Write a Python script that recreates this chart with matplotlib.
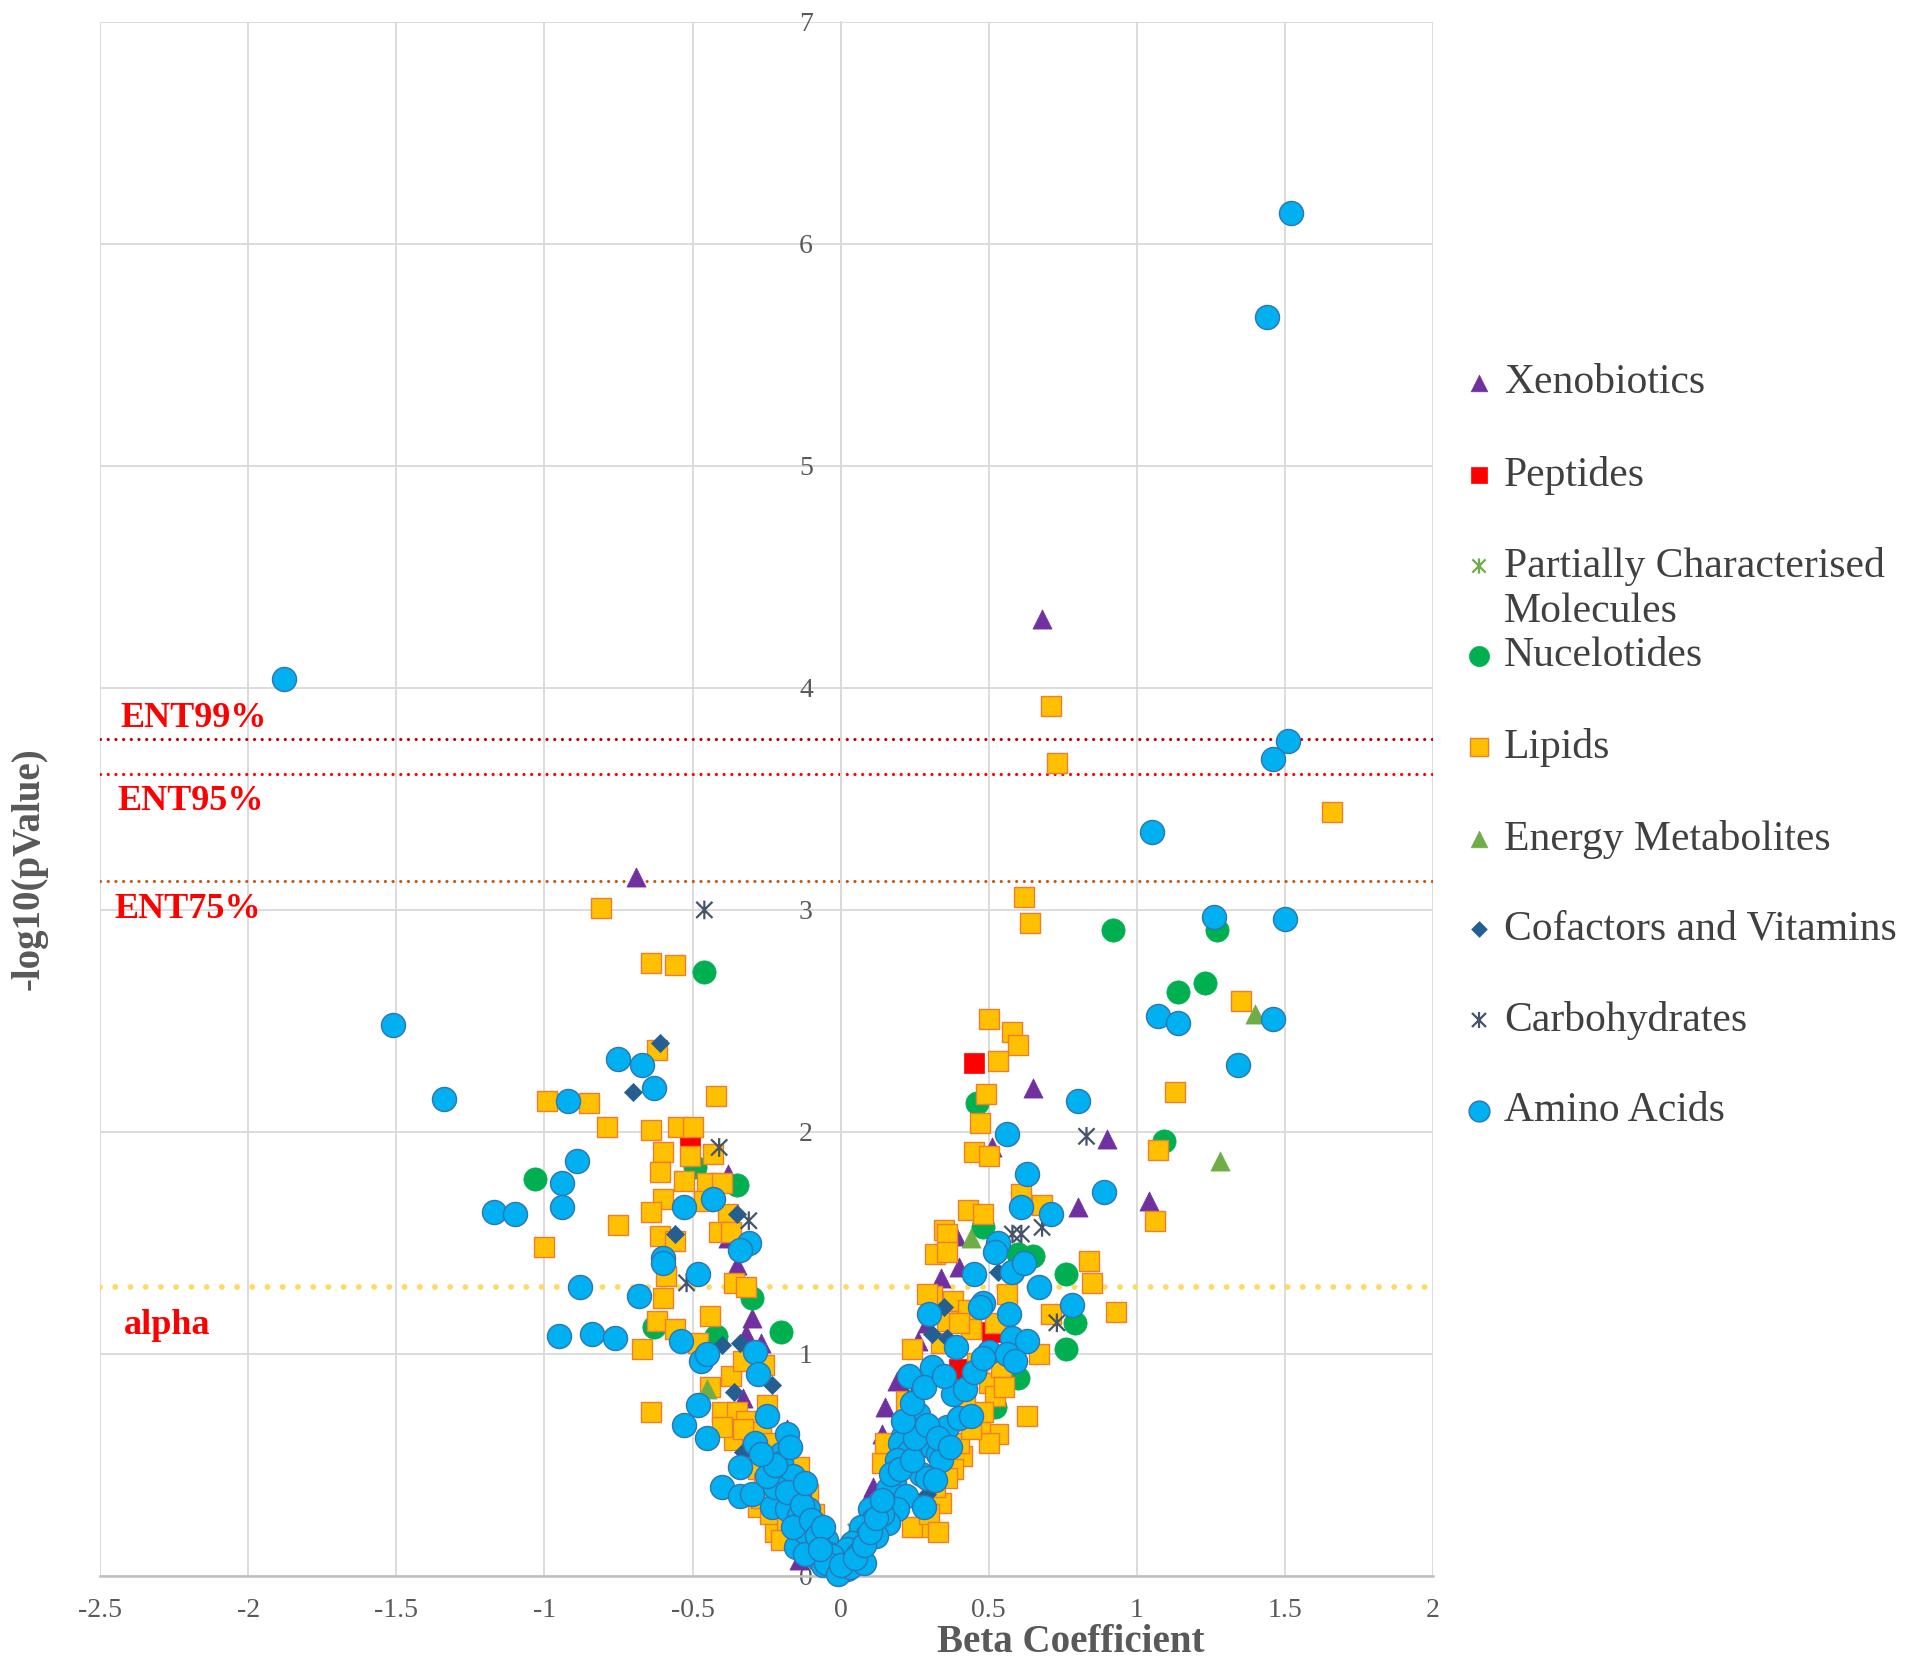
import matplotlib
matplotlib.use("Agg")
import matplotlib.pyplot as plt
import numpy as np
from matplotlib.path import Path

plt.rcParams['font.family'] = ['Liberation Serif', 'DejaVu Serif']

# ---- data (beta coefficient, -log10 p) ----
xeno_x = [0.68, -0.69, 0.65, 0.90, 0.80, 1.04, 0.51, -0.35, -0.30, -0.32, -0.27, -0.38, -0.38,
          -0.33, -0.18, -0.14, -0.08, 0.39, 0.40, 0.34, 0.19, 0.15, 0.14, 0.11, 0.29, 0.26, 0.10]
xeno_y = [4.31, 3.15, 2.20, 1.97, 1.66, 1.69, 1.93, 1.40, 1.16, 1.09, 1.05, 1.81, 1.52,
          0.80, 0.66, 0.07, 0.15, 1.53, 1.39, 1.34, 0.88, 0.76, 0.64, 0.40, 1.14, 1.06, 0.37]

pept_x = [0.45, -0.51, 0.40, 0.51]
pept_y = [2.31, 1.98, 0.93, 1.10]

partial_x = [0.05, -0.10]
partial_y = [0.20, 0.33]

nucl_x = [0.92, 1.27, 1.14, 1.23, 1.09, 0.46, -0.46, -0.35, -1.03, -0.49, -0.30, -0.20, -0.63,
          -0.42, 0.76, 0.79, 0.76, 0.60, 0.52, 0.65, 0.60, 0.48]
nucl_y = [2.91, 2.91, 2.63, 2.67, 1.96, 2.13, 2.72, 1.76, 1.79, 1.84, 1.25, 1.10, 1.12,
          1.08, 1.36, 1.14, 1.02, 0.89, 0.76, 1.44, 1.45, 1.57]

lipid_x = [1.66, 0.71, 0.73, -0.81, 0.62, 0.64, -0.64, -0.56, 1.35, 1.13, 1.07, 1.06, 0.93, 0.84,
           0.85, 0.50, 0.58, 0.60, 0.53, 0.49, 0.47, 0.45, 0.50, 0.63, -0.62, -0.99, -0.85, -0.42,
           -0.79, -0.64, -0.55, -0.50, -0.60, -0.51, -0.43, -0.61, -0.53, -0.45, -0.40, -0.60,
           -0.46, -0.64, -0.75, -0.38, -0.41, -0.37, -0.61, -0.56, -1.00, -0.59, -0.60, -0.36,
           -0.32, -0.44, -0.62, -0.56, -0.48, -0.67, -0.37, -0.33, -0.26, -0.64, -0.40, -0.35,
           -0.25, -0.32, -0.27, -0.36, -0.24, -0.14, -0.28, -0.26, -0.28, -0.22, -0.09, -0.11,
           0.61, 0.68, 0.43, 0.48, 0.35, 0.36, 0.32, 0.36, 0.71, 0.67, 0.24, 0.31, 0.38, 0.43,
           0.36, 0.44, 0.52, 0.50, 0.52, 0.46, 0.54, 0.53, 0.50, 0.47, 0.41, 0.38, 0.34, 0.27,
           0.24, 0.14, 0.15, 0.22, 0.34, 0.40, 0.29, 0.56,
           0.30, 0.32, 0.36, 0.40, 0.44, 0.48, 0.42, 0.55, 0.33,
           -0.30, -0.27, -0.24, -0.20, -0.18, -0.33, -0.40, -0.44]
lipid_y = [3.44, 3.92, 3.66, 3.01, 3.06, 2.94, 2.76, 2.75, 2.59, 2.18, 1.92, 1.60, 1.19, 1.42,
           1.32, 2.51, 2.45, 2.39, 2.32, 2.17, 2.04, 1.91, 1.89, 0.72, 2.37, 2.14, 2.13, 2.16,
           2.02, 2.01, 2.02, 2.02, 1.91, 1.89, 1.90, 1.82, 1.78, 1.77, 1.77, 1.70,
           1.69, 1.64, 1.58, 1.63, 1.55, 1.55, 1.53, 1.51, 1.48, 1.35, 1.25, 1.32,
           1.30, 1.17, 1.15, 1.11, 1.05, 1.02, 0.90, 0.97, 0.95, 0.74, 0.74, 0.74,
           0.77, 0.70, 0.65, 0.61, 0.60, 0.49, 0.48, 0.42, 0.31, 0.20, 0.28, 0.37,
           1.72, 1.67, 1.65, 1.63, 1.56, 1.54, 1.45, 1.46, 1.18, 1.00, 1.02, 1.26, 1.24, 1.20,
           1.15, 1.11, 1.14, 0.87, 0.81, 0.96, 0.94, 0.64, 0.60, 0.69, 0.54, 0.48, 0.33, 0.22,
           0.22, 0.51, 0.60, 0.79, 1.05, 1.14, 1.27, 1.27,
           0.28, 0.40, 0.44, 0.60, 0.66, 0.74, 0.78, 0.85, 0.20,
           0.58, 0.35, 0.28, 0.16, 0.25, 0.66, 0.67, 0.85]

energy_x = [1.40, 1.28, 0.44, -0.45, 0.03]
energy_y = [2.53, 1.87, 1.52, 0.84, 0.18]

cofac_x = [-0.61, -0.70, -0.35, -0.56, -0.40, -0.34, -0.23, -0.36, -0.33, 0.35, 0.31, 0.36,
           0.53, 0.42, 0.27, 0.20, 0.29]
cofac_y = [2.40, 2.18, 1.63, 1.54, 1.04, 1.05, 0.86, 0.83, 0.56, 1.21, 1.09, 1.07,
           1.37, 0.88, 0.85, 0.45, 0.37]

carb_x = [-0.46, -0.41, -0.31, -0.52, 0.83, 0.58, 0.61, 0.68, 0.73, 0.24]
carb_y = [3.00, 1.93, 1.60, 1.32, 1.98, 1.54, 1.54, 1.57, 1.14, 0.82]

amino_x = [1.52, 1.44, -1.88, 1.51, 1.46, 1.05, 1.26, 1.50, 1.07, 1.14, 1.46, 1.34, -1.51, -1.34,
           -0.75, -0.67, -0.63, -0.92, -0.89, -0.94, -0.94, -1.17, -1.10, -0.88, -0.95, -0.84,
           -0.76, 0.80, 0.56, 0.63, 0.89, 0.71, 0.61,
           -0.53, -0.43, -0.31, -0.34, -0.60, -0.60, -0.48, -0.68, -0.54, -0.47, -0.45, -0.29,
           -0.28, -0.48, -0.53, -0.45, -0.25, -0.18, -0.29, -0.34, -0.40, -0.34, -0.30, -0.20,
           -0.20, -0.20, -0.16, -0.23, -0.18, -0.14, -0.14, -0.09, -0.15, -0.10, -0.07, -0.05,
           -0.03, -0.01, 0.02, -0.12, -0.11, -0.08, -0.06, -0.12, -0.16, -0.22,
           -0.25, -0.22, -0.18, -0.13, -0.12, -0.10, -0.08, -0.06, -0.04, -0.02, -0.17, -0.27,
           0.53, 0.52, 0.45, 0.58, 0.62, 0.67, 0.78, 0.48, 0.47, 0.57, 0.30, 0.39, 0.50, 0.58,
           0.63, 0.56, 0.59, 0.31, 0.23, 0.38, 0.42, 0.26, 0.36, 0.40, 0.44, 0.27, 0.21, 0.20,
           0.31, 0.33, 0.34, 0.23, 0.19, 0.27, 0.29, 0.32, 0.18, 0.16, 0.22, 0.28, 0.13, 0.19,
           0.10, 0.11, 0.16, 0.07, 0.09, 0.04, 0.02, -0.03, -0.05, -0.01, 0.03, -0.07,
           0.06, 0.12, 0.14, 0.08, 0.00,
           0.05, 0.08, 0.10, 0.12, 0.14, 0.17, 0.20, 0.24, 0.25, 0.29, 0.21, 0.24, 0.28, 0.33,
           0.37, 0.45, 0.48, 0.35]
amino_y = [6.14, 5.67, 4.04, 3.76, 3.68, 3.35, 2.97, 2.96, 2.52, 2.49, 2.51, 2.30, 2.48, 2.15,
           2.33, 2.30, 2.20, 2.14, 1.87, 1.77, 1.66, 1.64, 1.63, 1.30, 1.08, 1.09,
           1.07, 2.14, 1.99, 1.81, 1.73, 1.63, 1.66,
           1.66, 1.70, 1.50, 1.47, 1.43, 1.41, 1.36, 1.26, 1.06, 0.97, 1.00, 1.01,
           0.91, 0.77, 0.68, 0.62, 0.72, 0.64, 0.60, 0.49, 0.40, 0.36, 0.37, 0.55,
           0.51, 0.42, 0.45, 0.31, 0.30, 0.36, 0.27, 0.24, 0.13, 0.18, 0.12, 0.16,
           0.07, 0.02, 0.03, 0.20, 0.30, 0.08, 0.05, 0.10, 0.22, 0.40,
           0.45, 0.50, 0.38, 0.32, 0.42, 0.25, 0.18, 0.22, 0.10, 0.05, 0.58, 0.55,
           1.50, 1.46, 1.36, 1.37, 1.41, 1.30, 1.22, 1.23, 1.21, 1.18, 1.18, 1.03, 1.01, 1.07,
           1.06, 1.00, 0.97, 0.94, 0.90, 0.82, 0.84, 0.73, 0.67, 0.71, 0.72, 0.66, 0.63, 0.60,
           0.58, 0.55, 0.52, 0.56, 0.52, 0.46, 0.44, 0.43, 0.42, 0.39, 0.36, 0.31, 0.33, 0.30,
           0.30, 0.25, 0.24, 0.22, 0.18, 0.15, 0.12, 0.09, 0.06, 0.01, 0.04, 0.12,
           0.10, 0.18, 0.28, 0.06, 0.05,
           0.08, 0.14, 0.20, 0.26, 0.34, 0.46, 0.48, 0.52, 0.62, 0.68, 0.70, 0.78, 0.85, 0.62,
           0.58, 0.92, 0.98, 0.90]

thresholds = [3.77, 3.61, 3.13, 1.30]
threshold_labels = ['ENT99%', 'ENT95%', 'ENT75%', 'alpha']

x_ticks = [-2.5, -2, -1.5, -1, -0.5, 0, 0.5, 1, 1.5, 2]
x_tick_labels = ['-2.5', '-2', '-1.5', '-1', '-0.5', '0', '0.5', '1', '1.5', '2']
y_ticks = [0, 1, 2, 3, 4, 5, 6, 7]

# asterisk marker like the spreadsheet "star"
star = Path([(-1, -1), (1, 1), (-1, 1), (1, -1), (0, -1.15), (0, 1.15)],
            [Path.MOVETO, Path.LINETO] * 3)

series = [
    ('Xenobiotics', xeno_x, xeno_y, dict(marker='^', s=190, c='#7030A0', edgecolors='#7030A0', linewidths=0.5)),
    ('Peptides', pept_x, pept_y, dict(marker='s', s=190, c='#FF0000', edgecolors='#FF0000', linewidths=0.5)),
    ('Partially Characterised', partial_x, partial_y,
     dict(marker=star, s=160, facecolors='none', edgecolors='#70AD47', linewidths=1.6)),
    ('Nucelotides', nucl_x, nucl_y, dict(marker='o', s=280, c='#00B050', edgecolors='#00B050', linewidths=0.5)),
    ('Lipids', lipid_x, lipid_y, dict(marker='s', s=200, c='#FFC000', edgecolors='#ED7D31', linewidths=1.0)),
    ('Energy Metabolites', energy_x, energy_y, dict(marker='^', s=190, c='#70AD47', edgecolors='#70AD47', linewidths=0.5)),
    ('Cofactors and Vitamins', cofac_x, cofac_y, dict(marker='D', s=85, c='#255E91', edgecolors='#255E91', linewidths=0.5)),
    ('Carbohydrates', carb_x, carb_y, dict(marker=star, s=180, facecolors='none', edgecolors='#44546A', linewidths=1.6)),
    ('Amino Acids', amino_x, amino_y, dict(marker='o', s=300, c='#00B0F0', edgecolors='#2E75B6', linewidths=1.0)),
]

fig = plt.figure(figsize=(19.2, 16.68), dpi=100)
ax = fig.add_axes([0.0521, 0.0552, 0.6943, 0.9317])

for i, (name, xs, ys, style) in enumerate(series):
    ax.scatter(xs, ys, zorder=3 + i, clip_on=False, **style)

# threshold lines
line_styles = [
    dict(color='#C00000', lw=2.3, ls=(0, (0.01, 2.4))),
    dict(color='#FF0000', lw=2.3, ls=(0, (0.01, 2.4))),
    dict(color='#C55A11', lw=2.3, ls=(0, (0.01, 2.4))),
    dict(color='#FFD966', lw=4.2, ls=(0, (0.01, 2.6))),
]
for yv, st in zip(thresholds, line_styles):
    ax.axhline(yv, dash_capstyle='round', zorder=2, **st)

label_pos = [(-2.43, 3.86), (-2.44, 3.49), (-2.45, 3.00), (-2.42, 1.13)]
for (lx, ly), txt in zip(label_pos, threshold_labels):
    ax.text(lx, ly, txt, color='#FF0000', fontsize=26, fontweight='bold',
            ha='left', va='center', zorder=20)

ax.set_xlim(-2.5, 2)
ax.set_ylim(0, 7)
ax.set_xticks(x_ticks)
ax.set_xticklabels(x_tick_labels)
ax.set_yticks(y_ticks)
ax.grid(True, color='#D9D9D9', lw=1.3)
ax.set_axisbelow(True)

for sp in ['top', 'right']:
    ax.spines[sp].set_visible(False)
ax.spines['left'].set_position(('data', 0))
ax.spines['left'].set_color('#D9D9D9')
ax.spines['left'].set_linewidth(1.3)
ax.spines['bottom'].set_color('#BFBFBF')
ax.spines['bottom'].set_linewidth(1.8)
ax.tick_params(axis='x', length=0, pad=16, labelsize=20, labelcolor='#595959')
ax.tick_params(axis='y', length=0, pad=20, labelsize=20, labelcolor='#595959')

ax.set_xlabel('Beta Coefficient', fontsize=28, fontweight='bold', color='#595959')
ax.xaxis.set_label_coords(0.728, -0.031)
ax.set_ylabel('-log10(pValue)', fontsize=28, fontweight='bold', color='#595959')
ax.yaxis.set_label_coords(-0.039, 0.455)

# legend drawn in figure pixel space
lax = fig.add_axes([0, 0, 1, 1])
lax.set_xlim(0, 1920)
lax.set_ylim(1668, 0)
lax.axis('off')
leg_y = [383, 475, 566, 656, 747, 839, 929, 1020, 1111]
for (name, xs, ys, style), yy in zip(series, leg_y):
    st = dict(style)
    st['s'] = st['s'] * 0.75
    lax.scatter([1479], [yy], **st)
    lax.text(1504, yy, name, fontsize=30, color='#404040', ha='left', va='center')
# second line of the "Partially Characterised" entry
lax.text(1504, 612, 'Molecules', fontsize=30, color='#404040', ha='left', va='center')

fig.savefig('out.png', dpi=100)
